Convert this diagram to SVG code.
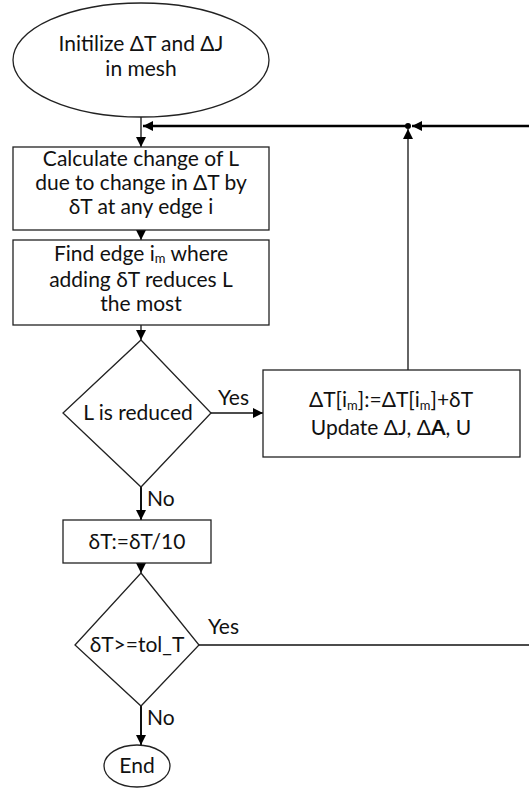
<svg xmlns="http://www.w3.org/2000/svg" width="529" height="789" viewBox="0 0 529 789">
<style>
.shape{fill:#fff;stroke:#222;stroke-width:1.3}
.t{font-family:Lato,"Open Sans",sans-serif;font-size:21px;fill:#111;text-anchor:middle}
.lbl{font-family:Lato,"Open Sans",sans-serif;font-size:21px;fill:#111}
.sub{font-size:13px}
.ln{fill:none;stroke:#111;stroke-width:1.3}
.thick{fill:none;stroke:#000;stroke-width:2.6}
.mid{fill:none;stroke:#111;stroke-width:2}
</style>
<defs>
<marker id="ah" viewBox="0 0 10 10" refX="10" refY="5" markerWidth="10" markerHeight="10" markerUnits="userSpaceOnUse" orient="auto">
<path d="M0,0 L10,5 L0,10 z" fill="#000"/>
</marker>
</defs>
<g id="connectors">
<line class="ln" x1="141" y1="117" x2="141" y2="147" marker-end="url(#ah)"/>
<line class="thick" x1="529" y1="126" x2="412" y2="126" marker-end="url(#ah)"/>
<line class="thick" x1="408" y1="126" x2="143" y2="126" marker-end="url(#ah)"/>
<line class="ln" x1="408" y1="370" x2="408" y2="129" marker-end="url(#ah)"/>
<circle cx="408" cy="126" r="3" fill="#000"/>
<line class="ln" x1="141" y1="230" x2="141" y2="240" marker-end="url(#ah)"/>
<line class="ln" x1="141" y1="325" x2="141" y2="340" marker-end="url(#ah)"/>
<line class="ln" x1="211" y1="413" x2="263" y2="413" marker-end="url(#ah)"/>
<text class="lbl" x="218" y="405">Yes</text>
<line class="mid" x1="141" y1="487" x2="141" y2="520" marker-end="url(#ah)"/>
<text class="lbl" x="147" y="506">No</text>
<line class="ln" x1="141" y1="563" x2="141" y2="573" marker-end="url(#ah)"/>
<line class="ln" x1="199" y1="645" x2="529" y2="645"/>
<text class="lbl" x="208" y="634">Yes</text>
<line class="mid" x1="141" y1="706" x2="141" y2="745" marker-end="url(#ah)"/>
<text class="lbl" x="147" y="725">No</text>
</g>
<g id="start">
<ellipse class="shape" cx="141" cy="60" rx="128" ry="57"/>
<text class="t" x="141" y="51">Initilize ΔT and ΔJ</text>
<text class="t" x="141" y="76">in mesh</text>
</g>
<g id="calc">
<rect class="shape" x="13" y="147" width="256" height="83"/>
<text class="t" x="141" y="166">Calculate change of L</text>
<text class="t" x="141" y="190">due to change in ΔT by</text>
<text class="t" x="141" y="214">δT at any edge i</text>
</g>
<g id="find">
<rect class="shape" x="13" y="240" width="256" height="85"/>
<text class="t" x="141" y="261">Find edge i<tspan class="sub" dy="2">m</tspan><tspan dy="-2"> where</tspan></text>
<text class="t" x="141" y="287">adding δT reduces L</text>
<text class="t" x="141" y="311">the most</text>
</g>
<g id="reduced">
<polygon class="shape" points="141,340 211,413 141,487 63,413"/>
<text class="t" x="138" y="420">L is reduced</text>
</g>
<g id="update">
<rect class="shape" x="263" y="370" width="257" height="87"/>
<text class="t" x="391" y="407">ΔT[i<tspan class="sub" dy="3">m</tspan><tspan dy="-3">]:=ΔT[i</tspan><tspan class="sub" dy="3">m</tspan><tspan dy="-3">]+δT</tspan></text>
<text class="t" x="391" y="435">Update ΔJ, Δ<tspan font-weight="bold">A</tspan>, U</text>
</g>
<g id="divide">
<rect class="shape" x="63" y="520" width="148" height="43"/>
<text class="t" x="137" y="549">δT:=δT/10</text>
</g>
<g id="tol">
<polygon class="shape" points="141,573 199,645 141,706 75,645"/>
<text class="t" x="137" y="652">δT&gt;=tol_T</text>
</g>
<g id="end">
<ellipse class="shape" cx="137" cy="766" rx="33" ry="21"/>
<text class="t" x="137" y="773">End</text>
</g>
</svg>
